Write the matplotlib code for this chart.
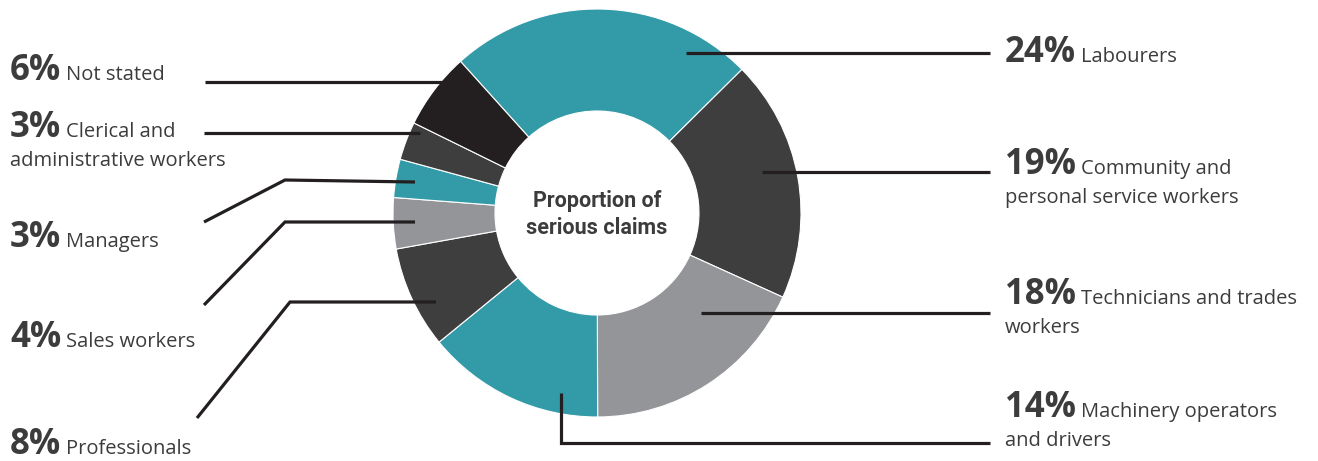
import matplotlib
matplotlib.use('Agg')
import matplotlib.pyplot as plt

# share of serious claims by occupation, clockwise from the top
occupations = ['Labourers', 'Community and personal service workers',
               'Technicians and trades workers', 'Machinery operators and drivers',
               'Professionals', 'Sales workers', 'Managers',
               'Clerical and administrative workers', 'Not stated']
shares = [24, 19, 18, 14, 8, 4, 3, 3, 6]
first_line_words = [1, 2, 3, 2, 1, 2, 1, 2, 2]

teal, dark, grey, black = '#339ba8', '#3e3e3e', '#949598', '#231f20'
slice_colors = [teal, dark, grey, teal, dark, grey, teal, dark, black]
text_col = '#3c3c3c'
line_col = '#231f20'

W, H = 1318, 461
cx, cy, R = 597, 213, 204

# label placement in pixels (x of the %, baseline y, leader line points)
layout = [
    (1005, 62, [(686, 53), (990, 53)]),
    (1005, 174, [(762, 172), (990, 172)]),
    (1005, 304, [(701, 313), (990, 313)]),
    (1005, 417, [(561, 393), (561, 443), (990, 443)]),
    (10, 454, [(436, 302), (290, 302), (197, 418)]),
    (10, 347, [(415, 222), (285, 222), (204, 305)]),
    (10, 247, [(415, 182), (285, 180), (204, 222)]),
    (10, 137, [(420, 133), (204, 133)]),
    (10, 80, [(443, 82), (205, 82)]),
]

fig = plt.figure(figsize=(W / 100, H / 100), dpi=100)
ax = fig.add_axes([0, 0, 1, 1])
ax.pie(shares, colors=slice_colors, radius=R, center=(cx, cy),
       startangle=-132, counterclock=True,
       wedgeprops=dict(width=R / 2, edgecolor='white', linewidth=0.8))
ax.set_xlim(0, W)
ax.set_ylim(H, 0)
ax.set_aspect('equal')
ax.axis('off')

ax.text(cx, cy - 6, 'Proportion of', ha='center', va='baseline',
        fontsize=15.5, fontweight='bold', family='Roboto', color=text_col)
ax.text(cx, cy + 21, 'serious claims', ha='center', va='baseline',
        fontsize=15.5, fontweight='bold', family='Roboto', color=text_col)

for name, v, nw, (x, y, pts) in zip(occupations, shares, first_line_words, layout):
    xs, ys = zip(*pts)
    ax.plot(xs, ys, color=line_col, lw=2.3, solid_capstyle='butt',
            solid_joinstyle='miter')
    words = name.split()
    pct = ax.text(x, y, f'{v}%', ha='left', va='baseline', fontsize=25,
                  fontweight='bold', family='Open Sans', color=text_col)
    ax.annotate(' '.join(words[:nw]), xy=(1, y), xycoords=(pct, 'data'),
                xytext=(3.5, 0), textcoords='offset points', ha='left',
                va='baseline', fontsize=14.5, family='Open Sans', color=text_col)
    if len(words) > nw:
        ax.text(x, y + 29, ' '.join(words[nw:]), ha='left', va='baseline',
                fontsize=14.5, family='Open Sans', color=text_col)

fig.savefig('out.png', dpi=100)
